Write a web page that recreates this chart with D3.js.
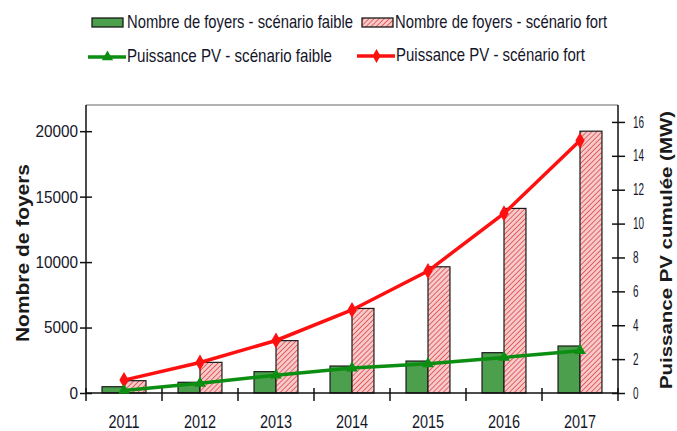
<!DOCTYPE html>
<html>
<head>
<meta charset="utf-8">
<script src="https://cdn.jsdelivr.net/npm/d3@7"></script>
<style>
  html, body { margin: 0; padding: 0; background: #fff; }
  svg { display: block; font-family: "Liberation Sans", Arial, sans-serif; }
</style>
</head>
<body>
<svg id="chart" width="677" height="431"></svg>
<script>
// Data
const years = ["2011", "2012", "2013", "2014", "2015", "2016", "2017"];
const foyersFaible = [480, 820, 1630, 2060, 2440, 3080, 3590];
const foyersFort = [940, 2340, 4000, 6460, 9640, 14100, 20000];
const pvFaible = [0.15, 0.57, 1.05, 1.47, 1.72, 2.1, 2.5];
const pvFort = [0.76, 1.8, 3.1, 4.9, 7.2, 10.6, 14.9];
const leftTicks = [0, 5000, 10000, 15000, 20000];
const rightTicks = [0, 2, 4, 6, 8, 10, 12, 14, 16];
const legendLabels = [
  "Nombre de foyers - scénario faible",
  "Nombre de foyers - scénario fort",
  "Puissance PV - scénario faible",
  "Puissance PV - scénario fort"
];

const GREEN_BAR = "#4c9f4c";
const GREEN_LINE = "#0b8e12";
const RED_LINE = "#ff1010";
const TEXT = "#15152a";

const svg = d3.select("#chart");

// Hatch pattern for the "fort" bars
const defs = svg.append("defs");
const pat = defs.append("pattern")
  .attr("id", "hatch")
  .attr("patternUnits", "userSpaceOnUse")
  .attr("width", 3.6).attr("height", 3.6)
  .attr("patternTransform", "rotate(45)");
pat.append("rect").attr("width", 3.6).attr("height", 3.6).attr("fill", "#f6caca");
pat.append("line").attr("x1", 0).attr("y1", 0).attr("x2", 0).attr("y2", 3.6)
  .attr("stroke", "#e04848").attr("stroke-width", 1.6);

// Squeeze text horizontally to mimic a condensed face
function squeeze(sel, k) {
  sel.each(function () {
    const w = this.getComputedTextLength();
    d3.select(this).attr("textLength", w * k).attr("lengthAdjust", "spacingAndGlyphs");
  });
}

const plot = { left: 86, right: 618, top: 105, bottom: 393 };

const x = d3.scaleBand().domain(years).range([plot.left, plot.right]).paddingInner(0).paddingOuter(0);
const xs = d3.scaleBand().domain(["faible", "fort"]).range([0, x.bandwidth()]).paddingInner(0).paddingOuter(0.73);
const yL = d3.scaleLinear().domain([0, 22000]).range([plot.bottom, plot.top]);
const yR = d3.scaleLinear().domain([0, 17]).range([plot.bottom, plot.top]);

// Plot frame: grey top edge
svg.append("line")
  .attr("x1", plot.left).attr("x2", plot.right)
  .attr("y1", plot.top).attr("y2", plot.top)
  .attr("stroke", "#999").attr("stroke-width", 1.5);

// Bars
const g = svg.append("g");
years.forEach((yr, i) => {
  g.append("rect")
    .attr("x", x(yr) + xs("faible")).attr("width", xs.bandwidth())
    .attr("y", yL(foyersFaible[i])).attr("height", yL(0) - yL(foyersFaible[i]))
    .attr("fill", GREEN_BAR).attr("stroke", "#1a1a1a").attr("stroke-width", 1.2);
  g.append("rect")
    .attr("x", x(yr) + xs("fort")).attr("width", xs.bandwidth())
    .attr("y", yL(foyersFort[i])).attr("height", yL(0) - yL(foyersFort[i]))
    .attr("fill", "url(#hatch)").attr("stroke", "#1a1a1a").attr("stroke-width", 1.2);
});

// Axes
const axL = d3.axisLeft(yL).tickValues(leftTicks).tickSize(6).tickFormat(d3.format("d"));
const gL = svg.append("g").attr("transform", `translate(${plot.left},0)`).call(axL);
gL.select(".domain").remove();
gL.append("line").attr("x1", 0).attr("x2", 0).attr("y1", plot.top).attr("y2", plot.bottom)
  .attr("stroke", "#111").attr("stroke-width", 1.5);
gL.selectAll(".tick line").attr("x1", -6).attr("x2", 6).attr("stroke", "#111").attr("stroke-width", 1.5);
gL.selectAll(".tick text").attr("x", -8).attr("font-size", 17).attr("fill", TEXT)
  .attr("font-family", "Liberation Sans, Arial, sans-serif");
squeeze(gL.selectAll(".tick text"), 0.9);

const axR = d3.axisRight(yR).tickValues(rightTicks).tickSize(6);
const gR = svg.append("g").attr("transform", `translate(${plot.right},0)`).call(axR);
gR.select(".domain").remove();
gR.append("line").attr("x1", 0).attr("x2", 0).attr("y1", plot.top).attr("y2", plot.bottom)
  .attr("stroke", "#111").attr("stroke-width", 1.5);
gR.selectAll(".tick line").attr("x1", -6).attr("x2", 7).attr("stroke", "#111").attr("stroke-width", 1.5);
gR.selectAll(".tick text").attr("x", 15).attr("font-size", 16).attr("fill", TEXT)
  .attr("font-family", "Liberation Sans, Arial, sans-serif");
squeeze(gR.selectAll(".tick text"), 0.62);

// Category axis with ticks between groups
const gB = svg.append("g");
gB.append("line").attr("x1", plot.left).attr("x2", plot.right)
  .attr("y1", plot.bottom).attr("y2", plot.bottom)
  .attr("stroke", "#111").attr("stroke-width", 1.5);
const boundaries = years.map(yr => x(yr)).concat([plot.right]);
gB.selectAll(".btick").data(boundaries).join("line")
  .attr("x1", d => d).attr("x2", d => d)
  .attr("y1", plot.bottom - 5).attr("y2", plot.bottom + 8)
  .attr("stroke", "#111").attr("stroke-width", 1.5);
const yrLabels = gB.selectAll(".ylab").data(years).join("text")
  .attr("x", d => x(d) + x.bandwidth() / 2).attr("y", 428)
  .attr("text-anchor", "middle").attr("font-size", 19).attr("fill", TEXT)
  .text(d => d);
squeeze(yrLabels, 0.76);

// Lines with markers
const line = (arr) => d3.line()
  .x((d, i) => x(years[i]) + x.bandwidth() / 2)
  .y(d => yR(d))(arr);

svg.append("path").attr("d", line(pvFort)).attr("fill", "none")
  .attr("stroke", RED_LINE).attr("stroke-width", 3.5);
svg.selectAll(".mRed").data(pvFort).join("path")
  .attr("d", d3.symbol(d3.symbolDiamond, 75))
  .attr("transform", (d, i) => `translate(${x(years[i]) + x.bandwidth() / 2},${yR(d)})`)
  .attr("fill", RED_LINE);

svg.append("path").attr("d", line(pvFaible)).attr("fill", "none")
  .attr("stroke", GREEN_LINE).attr("stroke-width", 3.5);
svg.selectAll(".mGreen").data(pvFaible).join("path")
  .attr("d", d3.symbol(d3.symbolTriangle, 60))
  .attr("transform", (d, i) => `translate(${x(years[i]) + x.bandwidth() / 2},${yR(d)})`)
  .attr("fill", GREEN_LINE);

// Axis titles
svg.append("text")
  .attr("transform", "translate(29,253) rotate(-90)")
  .attr("text-anchor", "middle").attr("font-weight", "bold").attr("font-size", 18)
  .attr("fill", "#1a1a1a").attr("textLength", 178).attr("lengthAdjust", "spacingAndGlyphs")
  .text("Nombre de foyers");
svg.append("text")
  .attr("transform", "translate(672,250) rotate(-90)")
  .attr("text-anchor", "middle").attr("font-weight", "bold").attr("font-size", 17)
  .attr("fill", "#1a1a1a").attr("textLength", 278).attr("lengthAdjust", "spacingAndGlyphs")
  .text("Puissance PV cumulée (MW)");

// Legend
const leg = svg.append("g");
const legTextWidths = [226, 212, 205, 189];
const legItems = [
  { kind: "bar", fill: GREEN_BAR, sx: 92, tx: 127, y: 28 },
  { kind: "bar", fill: "url(#hatch)", sx: 362, tx: 395, y: 28 },
  { kind: "line", color: GREEN_LINE, sym: d3.symbolTriangle, sx: 88, tx: 127, y: 62 },
  { kind: "line", color: RED_LINE, sym: d3.symbolDiamond, sx: 357, tx: 396, y: 61 }
];
legItems.forEach((it, i) => {
  if (it.kind === "bar") {
    leg.append("rect").attr("x", it.sx).attr("y", it.y - 10).attr("width", 31).attr("height", 9)
      .attr("fill", it.fill).attr("stroke", "#1a1a1a").attr("stroke-width", 1.3);
  } else {
    leg.append("line").attr("x1", it.sx).attr("x2", it.tx - 1)
      .attr("y1", it.y - 5).attr("y2", it.y - 5)
      .attr("stroke", it.color).attr("stroke-width", 3.5);
    leg.append("path").attr("d", d3.symbol(it.sym, 55))
      .attr("transform", `translate(${(it.sx + it.tx) / 2},${it.y - 5})`)
      .attr("fill", it.color);
  }
  leg.append("text").attr("x", it.tx).attr("y", it.y)
    .attr("font-size", 19).attr("fill", TEXT)
    .attr("textLength", legTextWidths[i]).attr("lengthAdjust", "spacingAndGlyphs")
    .text(legendLabels[i]);
});
</script>
</body>
</html>
